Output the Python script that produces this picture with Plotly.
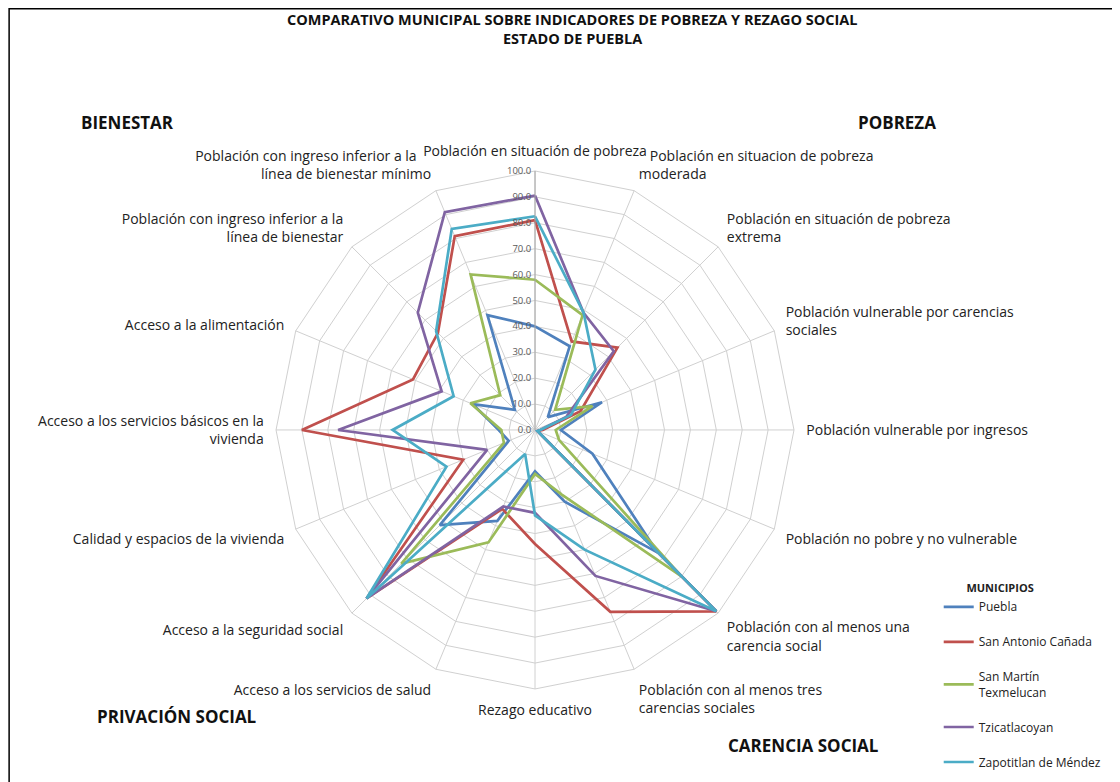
import plotly.graph_objects as go

# categorias (en el orden del radar, sentido horario desde arriba)
categorias = [
    "Población en situación de pobreza",
    "&nbsp;&nbsp;&nbsp;Población en situacion de pobreza<br>moderada",
    "Población en situación de pobreza<br>extrema",
    "Población vulnerable por carencias<br>sociales",
    "Población vulnerable por ingresos",
    "Población no pobre y no vulnerable",
    "Población con al menos una<br>carencia social",
    "Población con al menos tres<br>carencias sociales",
    "Rezago educativo",
    "Acceso a los servicios de salud",
    "Acceso a la seguridad social",
    "Calidad y espacios de la vivienda",
    "Acceso a los servicios básicos en la<br>vivienda",
    "Acceso a la alimentación",
    "Población con ingreso inferior a la<br>línea de bienestar",
    "Población con ingreso inferior a la&nbsp;&nbsp;&nbsp;&nbsp;<br>línea de bienestar mínimo",
]

puebla = [40, 35, 7, 28, 10, 24, 67, 30, 16, 38, 52, 11, 14, 26, 11, 48]
san_antonio = [81, 37, 45, 19, 3, 1, 99, 76, 44, 33, 92, 30, 90, 51, 53, 81]
san_martin = [58, 48, 11, 24, 8, 10, 80, 27, 17, 47, 73, 13, 13, 27, 19, 65]
tzicatlacoyan = [90.5, 49, 43, 13, 2, 1, 99, 61, 32, 32, 92, 20, 76, 39, 64, 91]
zapotitlan = [82.5, 49, 33, 15, 2, 1, 99, 50, 33, 10, 92, 37, 55, 34, 54, 84]

series = [
    ("Puebla", puebla, "#4F81BD"),
    ("San Antonio Cañada", san_antonio, "#C0504D"),
    ("San Martín<br>Texmelucan", san_martin, "#9BBB59"),
    ("Tzicatlacoyan", tzicatlacoyan, "#8064A2"),
    ("Zapotitlan de Méndez", zapotitlan, "#4BACC6"),
]

FONT = "Open Sans"

fig = go.Figure()
for i, (nombre, vals, color) in enumerate(series):
    # cerrar el poligono como en Excel
    fig.add_trace(go.Scatterpolar(
        r=vals + [vals[0]], theta=categorias + [categorias[0]],
        mode="lines", name=nombre, legendgroup=f"g{i}",
        line=dict(color=color, width=2.7),
    ))

fig.update_layout(
    width=1120, height=782,
    margin=dict(l=0, r=0, t=0, b=0),
    paper_bgcolor="white",
    font=dict(family=FONT, size=13, color="#222222"),
    polar=dict(
        domain=dict(x=[0.2393, 0.7018], y=[0.1292, 0.7916]),
        gridshape="linear",
        bgcolor="white",
        angularaxis=dict(
            direction="clockwise", rotation=90,
            gridcolor="#D0D0D0", linecolor="#D0D0D0", showline=True,
            tickfont=dict(size=14, family=FONT, color="#222222"),
            ticks="outside", ticklen=9, tickcolor="rgba(0,0,0,0)",
        ),
        radialaxis=dict(
            range=[0, 100], tickvals=list(range(0, 101, 10)), tickformat=".1f",
            angle=90, side="counterclockwise", tickangle=90,
            gridcolor="#D0D0D0", linecolor="#A6A6A6", showline=True,
            tickfont=dict(size=9.5, color="#595959"), ticks="",
        ),
    ),
    legend=dict(
        x=0.831, y=0.2711, xanchor="left", yanchor="top",
        title=dict(text="&nbsp;" * 9 + "<b>MUNICIPIOS</b>", font=dict(size=11)),
        font=dict(size=12), tracegroupgap=16, bgcolor="rgba(0,0,0,0)",
    ),
    shapes=[dict(type="rect", xref="paper", yref="paper",
                 x0=0.001, x1=0.9902, y0=-0.05, y1=0.999,
                 line=dict(color="black", width=1.5))],
)

titulos = [
    ("COMPARATIVO MUNICIPAL SOBRE INDICADORES DE POBREZA Y REZAGO SOCIAL", 0.5036, 1.0, 14.5, "top"),
    ("ESTADO DE PUEBLA", 0.5036, 0.9616, 14.5, "middle"),
    ("BIENESTAR", 0.1063, 0.8542, 17, "middle"),
    ("POBREZA", 0.7938, 0.8542, 17, "middle"),
    ("PRIVACIÓN SOCIAL", 0.1509, 0.0934, 17, "middle"),
    ("CARENCIA SOCIAL", 0.7107, 0.0575, 17, "middle"),
]
for txt, x, y, sz, ya in titulos:
    fig.add_annotation(text=f"<b>{txt}</b>", x=x, y=y, xref="paper", yref="paper",
                       xanchor="center", yanchor=ya, showarrow=False,
                       font=dict(size=sz, family=FONT, color="#111111"))

fig.write_html("out.html")
